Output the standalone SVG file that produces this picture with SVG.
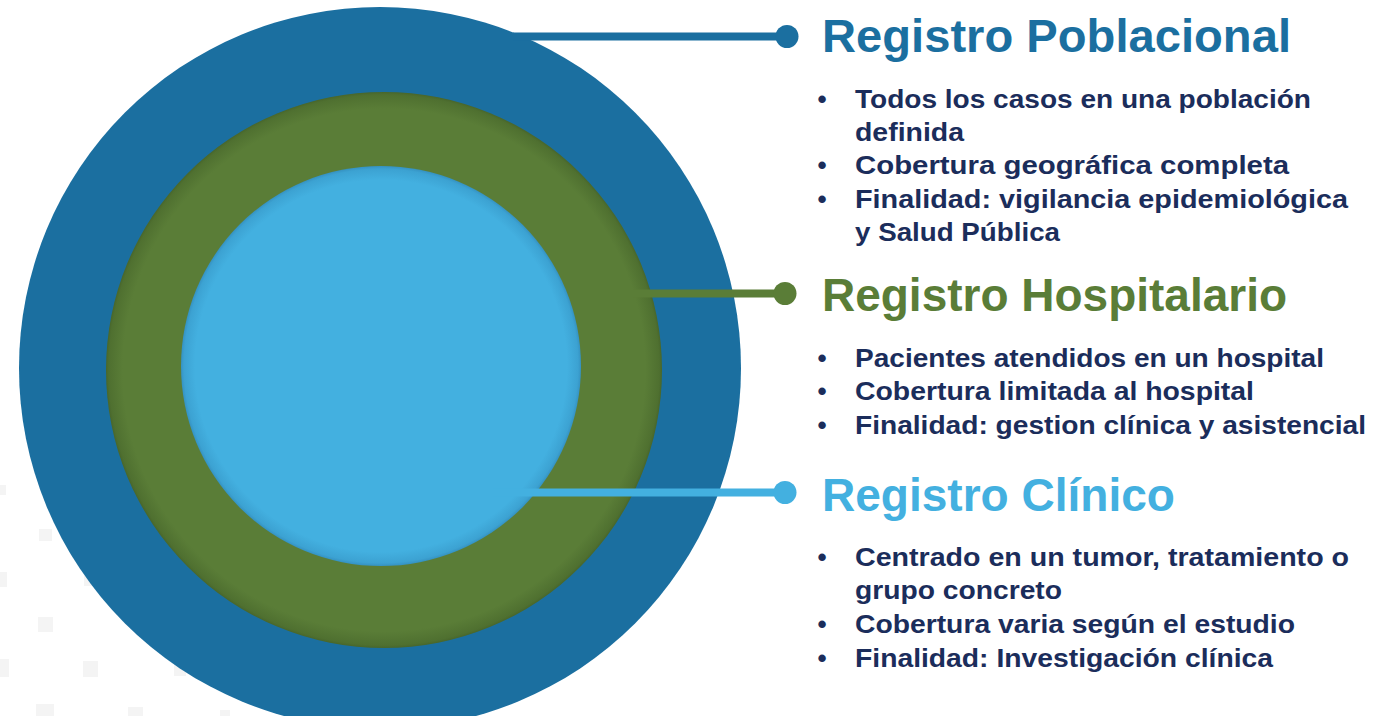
<svg xmlns="http://www.w3.org/2000/svg" width="1383" height="716" viewBox="0 0 1383 716">
  <style>
    .title { font-family: "Liberation Sans", Arial, sans-serif; font-weight: bold; font-size: 47px; }
    .item { font-family: "Liberation Sans", Arial, sans-serif; font-weight: bold; font-size: 26.5px; fill: #1B2D5B; }
    .bullet { font-family: "Liberation Sans", Arial, sans-serif; font-weight: bold; font-size: 26px; fill: #1B2D5B; text-anchor: middle; }
    .sq { fill: #F4F4F4; }
  </style>
  <defs>
    <radialGradient id="gGreen" cx="0.5" cy="0.5" r="0.5">
      <stop offset="0" stop-color="#5A7D37"/>
      <stop offset="0.94" stop-color="#5A7D37"/>
      <stop offset="0.99" stop-color="#4F7030"/>
      <stop offset="1" stop-color="#48662B"/>
    </radialGradient>
    <radialGradient id="gLight" cx="0.5" cy="0.5" r="0.5">
      <stop offset="0" stop-color="#43B0E0"/>
      <stop offset="0.93" stop-color="#43B0E0"/>
      <stop offset="0.985" stop-color="#3CA2D2"/>
      <stop offset="1" stop-color="#3592C2"/>
    </radialGradient>
  </defs>

  <g id="background">
    <rect class="sq" x="0" y="485" width="6" height="10"/>
    <rect class="sq" x="39" y="529" width="13" height="12"/>
    <rect class="sq" x="0" y="572" width="7" height="15"/>
    <rect class="sq" x="84" y="574" width="12" height="12"/>
    <rect class="sq" x="38" y="617" width="15" height="15"/>
    <rect class="sq" x="0" y="659" width="9" height="18"/>
    <rect class="sq" x="83" y="661" width="15" height="16"/>
    <rect class="sq" x="174" y="664" width="12" height="12"/>
    <rect class="sq" x="36" y="704" width="18" height="12"/>
    <rect class="sq" x="128" y="707" width="15" height="9"/>
    <rect class="sq" x="220" y="710" width="10" height="6"/>
  </g>

  <g id="node-poblacional">
    <circle cx="380" cy="368" r="361" fill="#1B6FA0"/>
  </g>
  <g id="node-hospitalario">
    <circle cx="384" cy="370" r="278" fill="url(#gGreen)"/>
  </g>
  <g id="node-clinico">
    <circle cx="381" cy="366" r="200" fill="url(#gLight)"/>
  </g>

  <g id="connectors">
    <line x1="513" y1="36.5" x2="787" y2="36.5" stroke="#1B6FA0" stroke-width="8"/>
    <circle cx="787" cy="36.5" r="11.5" fill="#1B6FA0"/>
    <line x1="633" y1="293.5" x2="785" y2="293.5" stroke="#5A7D37" stroke-width="8"/>
    <circle cx="785" cy="293.5" r="11.5" fill="#5A7D37"/>
    <line x1="493" y1="492.5" x2="785" y2="492.5" stroke="#43B0E0" stroke-width="8"/>
    <circle cx="785" cy="492.5" r="11.5" fill="#43B0E0"/>
  </g>

  <g id="label-poblacional">
    <text class="title" x="822" y="52" fill="#1B6FA0" textLength="469" lengthAdjust="spacingAndGlyphs">Registro Poblacional</text>
    <text class="bullet" x="822" y="108">•</text>
    <text class="item" x="855" y="108" textLength="456" lengthAdjust="spacingAndGlyphs">Todos los casos en una población</text>
    <text class="item" x="855" y="141" textLength="109" lengthAdjust="spacingAndGlyphs">definida</text>
    <text class="bullet" x="822" y="174">•</text>
    <text class="item" x="855" y="174" textLength="434" lengthAdjust="spacingAndGlyphs">Cobertura geográfica completa</text>
    <text class="bullet" x="822" y="208">•</text>
    <text class="item" x="855" y="208" textLength="493" lengthAdjust="spacingAndGlyphs">Finalidad: vigilancia epidemiológica</text>
    <text class="item" x="855" y="241" textLength="205" lengthAdjust="spacingAndGlyphs">y Salud Pública</text>
  </g>

  <g id="label-hospitalario">
    <text class="title" x="822" y="311" fill="#5A7D37" textLength="465" lengthAdjust="spacingAndGlyphs">Registro Hospitalario</text>
    <text class="bullet" x="822" y="367">•</text>
    <text class="item" x="855" y="367" textLength="469" lengthAdjust="spacingAndGlyphs">Pacientes atendidos en un hospital</text>
    <text class="bullet" x="822" y="400">•</text>
    <text class="item" x="855" y="400" textLength="399" lengthAdjust="spacingAndGlyphs">Cobertura limitada al hospital</text>
    <text class="bullet" x="822" y="434">•</text>
    <text class="item" x="855" y="434" textLength="511" lengthAdjust="spacingAndGlyphs">Finalidad: gestion clínica y asistencial</text>
  </g>

  <g id="label-clinico">
    <text class="title" x="822" y="511" fill="#43B0E0" textLength="353" lengthAdjust="spacingAndGlyphs">Registro Clínico</text>
    <text class="bullet" x="822" y="566">•</text>
    <text class="item" x="855" y="566" textLength="494" lengthAdjust="spacingAndGlyphs">Centrado en un tumor, tratamiento o</text>
    <text class="item" x="855" y="599" textLength="207" lengthAdjust="spacingAndGlyphs">grupo concreto</text>
    <text class="bullet" x="822" y="633">•</text>
    <text class="item" x="855" y="633" textLength="440" lengthAdjust="spacingAndGlyphs">Cobertura varia según el estudio</text>
    <text class="bullet" x="822" y="667">•</text>
    <text class="item" x="855" y="667" textLength="418" lengthAdjust="spacingAndGlyphs">Finalidad: Investigación clínica</text>
  </g>
</svg>
